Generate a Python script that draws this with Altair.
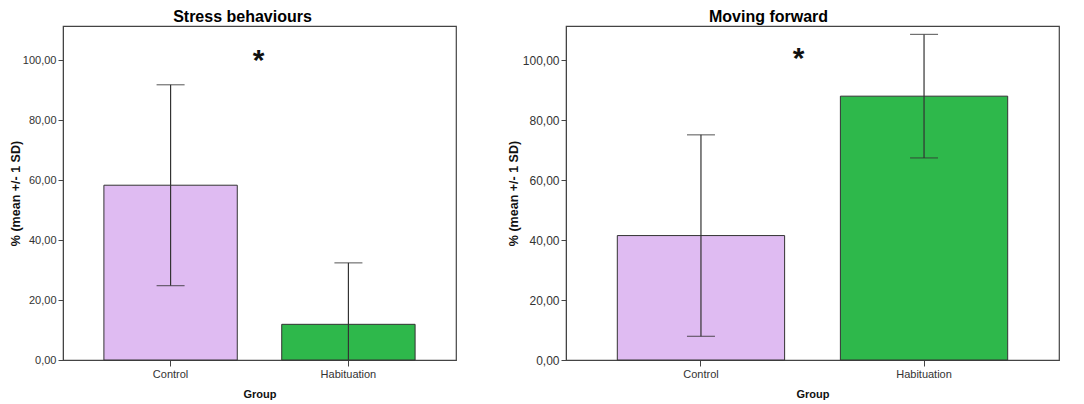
import altair as alt
import pandas as pd

groups = ["Control", "Habituation"]
colors = ["#DFBBF2", "#2EB84B"]

stress_mean = [58.3, 11.9]
stress_sd = [33.5, 20.5]

moving_mean = [41.5, 88.0]
moving_sd = [33.6, 20.6]

titles = ["Stress behaviours", "Moving forward"]
star_level = [100.3, 101.0]

FONT = "Liberation Sans"
Y_MAX = 111.4


def panel(title, means, sds, star_y, width, height, title_pad, label_size, star_dx, title_dx):
    df = pd.DataFrame({"Group": groups, "mean": means, "sd": sds})
    df["lo"] = df["mean"] - df["sd"]
    df["hi"] = df["mean"] + df["sd"]
    x = alt.X(
        "Group:N",
        sort=groups,
        title="Group",
        scale=alt.Scale(paddingInner=0.25, paddingOuter=0.23),
        axis=alt.Axis(labelAngle=0, tickSize=6, labelPadding=2, titlePadding=9),
    )
    yscale = alt.Scale(domain=[0, Y_MAX], nice=False, zero=True)
    yaxis = alt.Axis(
        values=[0, 20, 40, 60, 80, 100],
        labelExpr="replace(format(datum.value, '.2f'), '.', ',')",
        tickSize=5,
        labelPadding=2,
        titlePadding=title_pad,
        grid=False,
        labelFontSize=label_size,
        titleFontSize=12.5,
    )
    base = alt.Chart(df)
    bars = base.mark_bar(stroke="#333333", strokeWidth=1, opacity=1).encode(
        x=x,
        y=alt.Y("mean:Q", scale=yscale, axis=yaxis, title="%  (mean +/- 1 SD)"),
        color=alt.Color("Group:N", scale=alt.Scale(domain=groups, range=colors), legend=None),
    )
    rule = base.mark_rule(color="#333333", strokeWidth=1.2, clip=True).encode(
        x=alt.X("Group:N", sort=groups),
        y=alt.Y("lo:Q"),
        y2="hi:Q",
    )
    cap_hi = base.mark_tick(color="#333333", thickness=1.2, size=28, clip=True).encode(
        x=alt.X("Group:N", sort=groups), y=alt.Y("hi:Q")
    )
    cap_lo = base.mark_tick(color="#333333", thickness=1.2, size=28, clip=True).encode(
        x=alt.X("Group:N", sort=groups), y=alt.Y("lo:Q")
    )
    star = alt.Chart(pd.DataFrame({"label": ["*"], "y": [star_y]})).mark_text(
        fontSize=30, fontWeight="bold", color="#111111", baseline="middle", dx=star_dx, dy=2, font=FONT
    ).encode(
        x=alt.value(width / 2),
        y=alt.Y("y:Q"),
        text="label:N",
    )
    return alt.layer(bars, rule, cap_hi, cap_lo, star).properties(
        width=width,
        height=height,
        title=alt.TitleParams(title, fontSize=16, fontWeight="bold", font=FONT, color="#000000",
                              anchor="middle", offset=1, dx=title_dx),
    )


left = panel(titles[0], stress_mean, stress_sd, star_level[0], 393, 334, 0, 11, -1, -17)
right = panel(titles[1], moving_mean, moving_sd, star_level[1], 493, 334, 2, 12, -14, -44)

chart = alt.hconcat(left, right, spacing=49).properties(
    padding={"left": 0, "top": 0, "right": 0, "bottom": 0}
).configure(
    font=FONT,
).configure_view(
    stroke="#444444", strokeWidth=1.2
).configure_axis(
    domainColor="#444444",
    tickColor="#444444",
    labelColor="#333333",
    labelFont=FONT,
    labelFontSize=11,
    titleFont=FONT,
    titleFontSize=11,
    titleFontWeight="bold",
    titleColor="#111111",
)

chart.save("out.html", embed_options={"renderer": "svg", "actions": False})
